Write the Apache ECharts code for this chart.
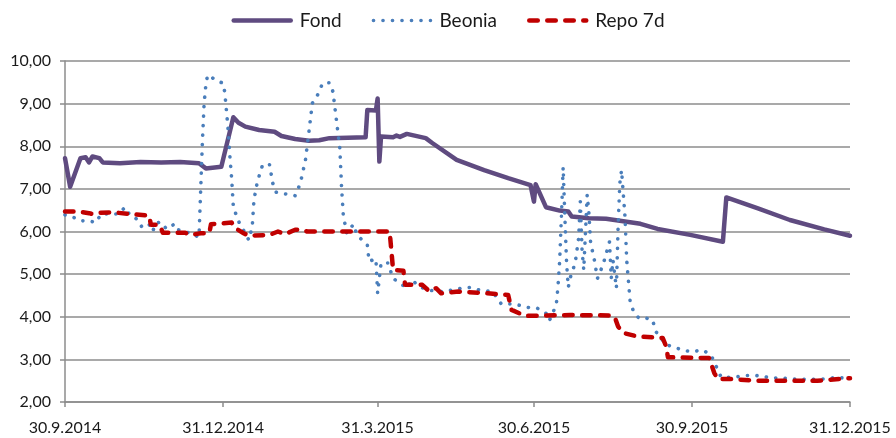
<!DOCTYPE html>
<html lang="sr">
<head>
    <meta charset="UTF-8">
    <title>Fond / Beonia / Repo 7d</title>
    <script src="https://cdn.jsdelivr.net/npm/echarts@6.0.0/dist/echarts.min.js"></script>
    <style>
        html, body { margin: 0; padding: 0; background: #fff; }
    </style>
</head>
<body>

    <div id="main" style="width:896px; height:438px;"></div>

    <script>
        // podaci procitani sa grafika
        var fondDates = ['2014-09-30','2014-10-01','2014-10-03','2014-10-04','2014-10-09','2014-10-12','2014-10-14','2014-10-16','2014-10-20','2014-10-22',
            '2014-11-01','2014-11-13','2014-11-25','2014-12-06','2014-12-17','2014-12-21','2014-12-30','2015-01-06','2015-01-09','2015-01-13',
            '2015-01-21','2015-01-30','2015-02-03','2015-02-11','2015-02-19','2015-02-25','2015-03-03','2015-03-24','2015-03-25','2015-03-30',
            '2015-03-31','2015-04-01','2015-04-02','2015-04-09','2015-04-11','2015-04-13','2015-04-17','2015-04-28','2015-05-02','2015-05-16',
            '2015-06-01','2015-06-15','2015-06-28','2015-06-29','2015-06-30','2015-07-01','2015-07-07','2015-07-15','2015-07-20','2015-07-22',
            '2015-08-01','2015-08-11','2015-08-19','2015-08-31','2015-09-10','2015-09-29','2015-10-18','2015-10-20','2015-11-07','2015-11-26',
            '2015-12-16','2015-12-31'];
        var fondValues = [7.72, 7.70, 7.05, 7.05, 7.72, 7.74, 7.62, 7.76, 7.72, 7.62,
            7.60, 7.63, 7.62, 7.63, 7.60, 7.48, 7.52, 8.68, 8.55, 8.46,
            8.38, 8.34, 8.24, 8.17, 8.13, 8.14, 8.19, 8.21, 8.85, 8.84,
            9.12, 7.64, 8.23, 8.21, 8.25, 8.22, 8.29, 8.19, 8.07, 7.68,
            7.44, 7.25, 7.09, 7.10, 6.70, 7.11, 6.57, 6.49, 6.47, 6.35,
            6.31, 6.30, 6.25, 6.18, 6.06, 5.92, 5.76, 6.80, 6.55, 6.27,
            6.05, 5.90];

        var beoniaDates = ['2014-09-30','2014-10-05','2014-10-09','2014-10-14','2014-10-18','2014-10-21','2014-10-31','2014-11-04','2014-11-07','2014-11-11',
            '2014-11-14','2014-11-18','2014-11-20','2014-11-22','2014-11-25','2014-11-28','2014-12-03','2014-12-05','2014-12-12','2014-12-17',
            '2014-12-19','2014-12-20','2014-12-21','2014-12-22','2014-12-24','2014-12-27','2014-12-31','2015-01-01','2015-01-02','2015-01-03',
            '2015-01-04','2015-01-05','2015-01-06','2015-01-08','2015-01-10','2015-01-13','2015-01-15','2015-01-17','2015-01-18','2015-01-20',
            '2015-01-23','2015-01-27','2015-01-29','2015-01-31','2015-02-08','2015-02-11','2015-02-14','2015-02-17','2015-02-19','2015-02-21',
            '2015-02-24','2015-02-27','2015-03-03','2015-03-05','2015-03-07','2015-03-09','2015-03-10','2015-03-11','2015-03-13','2015-03-17',
            '2015-03-19','2015-03-22','2015-03-25','2015-03-26','2015-03-30','2015-03-31','2015-04-02','2015-04-06','2015-04-09','2015-04-13',
            '2015-04-17','2015-04-20','2015-04-24','2015-04-30','2015-05-08','2015-05-19','2015-05-24','2015-05-29','2015-06-06','2015-06-11',
            '2015-06-19','2015-06-24','2015-06-29','2015-07-02','2015-07-07','2015-07-09','2015-07-13','2015-07-14','2015-07-15','2015-07-16',
            '2015-07-17','2015-07-18','2015-07-19','2015-07-20','2015-07-21','2015-07-24','2015-07-26','2015-07-27','2015-07-28','2015-07-29',
            '2015-07-31','2015-08-01','2015-08-02','2015-08-04','2015-08-06','2015-08-08','2015-08-10','2015-08-13','2015-08-14','2015-08-15',
            '2015-08-17','2015-08-18','2015-08-19','2015-08-20','2015-08-22','2015-08-23','2015-08-25','2015-08-27','2015-08-30','2015-09-02',
            '2015-09-07','2015-09-08','2015-09-09','2015-09-15','2015-09-19','2015-09-24','2015-09-30','2015-10-03','2015-10-06','2015-10-11',
            '2015-10-17','2015-10-22','2015-10-28','2015-11-01','2015-11-06','2015-11-10','2015-11-15','2015-11-21','2015-11-26','2015-12-02',
            '2015-12-07','2015-12-12','2015-12-17','2015-12-23','2015-12-28','2015-12-31'];
        var beoniaValues = [6.39, 6.33, 6.25, 6.25, 6.21, 6.41, 6.41, 6.57, 6.37, 6.29,
            6.09, 6.16, 6.00, 6.20, 6.22, 6.06, 6.18, 6.04, 5.96, 5.87,
            8.11, 9.01, 9.44, 9.67, 9.63, 9.54, 9.48, 9.27, 8.83, 8.38,
            7.76, 7.25, 6.58, 6.35, 6.15, 5.96, 5.80, 6.11, 6.74, 7.17,
            7.56, 7.58, 7.13, 6.92, 6.86, 6.84, 7.13, 7.68, 8.34, 9.01,
            9.20, 9.48, 9.49, 9.28, 8.62, 7.95, 7.05, 6.39, 5.96, 6.17,
            5.92, 5.80, 5.69, 5.30, 5.36, 4.55, 5.26, 5.26, 4.90, 4.79,
            4.67, 4.87, 4.71, 4.62, 4.59, 4.67, 4.69, 4.63, 4.59, 4.30,
            4.30, 4.24, 4.20, 4.20, 4.08, 3.91, 4.28, 4.71, 5.33, 6.35,
            7.51, 6.35, 5.26, 4.69, 4.90, 5.26, 5.84, 6.70, 5.57, 5.10,
            6.86, 6.43, 5.73, 5.37, 4.90, 5.10, 5.33, 5.76, 4.90, 5.33,
            4.67, 6.11, 7.13, 7.44, 6.35, 5.33, 4.36, 4.12, 3.97, 3.98,
            3.93, 3.97, 3.65, 3.34, 3.30, 3.22, 3.18, 3.20, 3.22, 3.11,
            2.58, 2.58, 2.60, 2.62, 2.62, 2.61, 2.56, 2.57, 2.54, 2.54,
            2.52, 2.54, 2.54, 2.58, 2.56, 2.58];

        var repoDates = ['2014-09-30','2014-10-07','2014-10-14','2014-10-16','2014-10-20','2014-10-28','2014-11-07','2014-11-18','2014-11-19','2014-11-24',
            '2014-11-26','2014-12-09','2014-12-12','2014-12-18','2014-12-23','2014-12-24','2015-01-05','2015-01-07','2015-01-12','2015-01-15',
            '2015-01-27','2015-02-01','2015-02-05','2015-02-11','2015-02-14','2015-02-18','2015-04-07','2015-04-09','2015-04-15','2015-04-16',
            '2015-04-26','2015-04-30','2015-05-04','2015-05-07','2015-05-17','2015-06-03','2015-06-15','2015-06-17','2015-06-25','2015-07-21',
            '2015-08-13','2015-08-16','2015-08-18','2015-08-21','2015-08-29','2015-09-13','2015-09-15','2015-09-16','2015-10-10','2015-10-13',
            '2015-10-15','2015-10-22','2015-11-07','2015-12-12','2015-12-25','2015-12-29','2015-12-31'];
        var repoValues = [6.47, 6.47, 6.43, 6.41, 6.44, 6.45, 6.41, 6.37, 6.16, 6.16,
            5.97, 5.97, 5.92, 5.96, 5.96, 6.17, 6.21, 6.08, 5.96, 5.90,
            5.92, 6.00, 5.94, 6.04, 6.05, 6.00, 6.00, 5.10, 5.08, 4.75,
            4.75, 4.60, 4.67, 4.55, 4.59, 4.55, 4.51, 4.16, 4.02, 4.04,
            4.03, 4.00, 3.77, 3.62, 3.54, 3.50, 3.30, 3.05, 3.03, 2.68,
            2.54, 2.54, 2.50, 2.50, 2.54, 2.56, 2.56];

        var xTickDates = ['2014-09-30', '2014-12-31', '2015-03-31', '2015-06-30', '2015-09-30', '2015-12-31'];
        var yMin = 2, yMax = 10, yStep = 1;

        // x osa: broj dana od prvog datuma
        var DAY = 86400000;
        function toDate(s) {
            var p = s.split('-');
            return Date.UTC(+p[0], +p[1] - 1, +p[2]);
        }
        var t0 = toDate(xTickDates[0]);
        function toDay(s) { return Math.round((toDate(s) - t0) / DAY); }
        function pairs(dates, values) {
            return dates.map(function (d, i) { return [toDay(d), values[i]]; });
        }
        var xTicks = xTickDates.map(toDay);

        var gridColor = '#8c8c8c';
        var labelFont = 'Lato, "Liberation Sans", sans-serif';

        var charts = echarts.init(document.getElementById('main'));

        var options = {
            animation: false,
            legend: {
                top: 6,
                left: 'center',
                itemWidth: 57,
                itemHeight: 14,
                itemGap: 30,
                itemStyle: { opacity: 0 },
                lineStyle: { width: 'inherit' },
                textStyle: { fontFamily: labelFont, fontSize: 19, color: '#1a1a1a', padding: [0, 0, 0, 4] },
                data: ['Fond', 'Beonia', 'Repo 7d']
            },
            grid: { left: 65, right: 46, top: 61, bottom: 36 },
            xAxis: {
                type: 'value',
                min: xTicks[0],
                max: xTicks[xTicks.length - 1],
                axisLine: { show: true, lineStyle: { color: gridColor, width: 1.5 } },
                axisTick: {
                    show: true, length: 5,
                    customValues: xTicks,
                    lineStyle: { color: gridColor, width: 1.5 }
                },
                axisLabel: {
                    customValues: xTicks,
                    fontFamily: labelFont, fontSize: 16, color: '#1a1a1a', margin: 18,
                    showMinLabel: true, showMaxLabel: true, hideOverlap: false,
                    formatter: function (v) {
                        var d = new Date(t0 + v * DAY);
                        return d.getUTCDate() + '.' + (d.getUTCMonth() + 1) + '.' + d.getUTCFullYear();
                    }
                },
                splitLine: { show: false }
            },
            yAxis: {
                type: 'value',
                min: yMin, max: yMax, interval: yStep,
                axisLine: { show: true, lineStyle: { color: gridColor, width: 1.5 } },
                axisTick: { show: true, length: 5, lineStyle: { color: gridColor, width: 1.5 } },
                axisLabel: {
                    fontFamily: labelFont, fontSize: 16, color: '#1a1a1a', margin: 14,
                    formatter: function (v) { return v.toFixed(2).replace('.', ','); }
                },
                splitLine: { show: true, lineStyle: { color: gridColor, width: 1.5 } }
            },
            series: [{
                name: 'Fond',
                type: 'line',
                symbol: 'none',
                data: pairs(fondDates, fondValues),
                itemStyle: { color: '#5f4b80' },
                lineStyle: { color: '#5f4b80', width: 4.5, join: 'round', cap: 'round' }
            }, {
                name: 'Beonia',
                type: 'line',
                symbol: 'none',
                data: pairs(beoniaDates, beoniaValues),
                itemStyle: { color: '#4a7ebb' },
                lineStyle: { color: '#4a7ebb', width: 3.6, type: [0.1, 9.4], cap: 'round', join: 'round' }
            }, {
                name: 'Repo 7d',
                type: 'line',
                symbol: 'none',
                data: pairs(repoDates, repoValues),
                itemStyle: { color: '#c00000' },
                lineStyle: { color: '#c00000', width: 4.5, type: [8.5, 9.5], cap: 'round', join: 'round' }
            }]
        };

        charts.setOption(options);
    </script>
</body>
</html>
